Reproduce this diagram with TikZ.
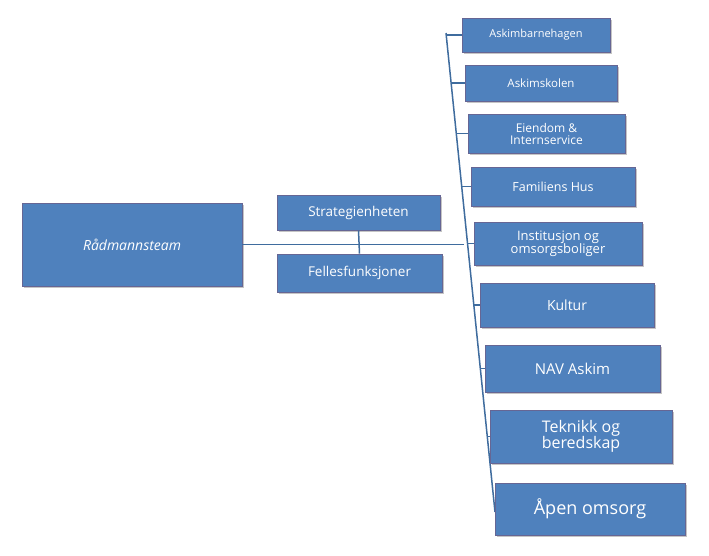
\documentclass[tikz,border=0pt]{standalone}
\usepackage{fontspec}
\setmainfont{Open Sans}
\usetikzlibrary{shadows}
\begin{document}
\begin{tikzpicture}[x=1pt,y=-1pt,
  bx/.style={draw=blue!30!black!60!white,line width=0.6pt,fill=boxc,text=white,align=center,inner sep=1pt,
    drop shadow={shadow xshift=2pt,shadow yshift=-2pt,fill=black!45},font=\fontsize{#1}{#1}\selectfont},
  ln/.style={draw=linec,line width=1.5pt}]
\definecolor{boxc}{HTML}{4F81BD}
\definecolor{linec}{HTML}{3F6C9E}
\useasboundingbox (0,0) rectangle (709,555);
\newcommand\bnode[6]{\node[bx=#6,minimum width=#3-#1,minimum height=#4-#2] (#5) at ({(#1+#3)/2},{(#2+#4)/2})}
\coordinate (s1) at (446,33);
\coordinate (s2) at (495,512);
\draw[ln] (s1)--(s2);
\bnode{22}{203}{242}{286}{r}{14}{\itshape Rådmannsteam};
\bnode{277}{195}{440}{230}{st}{13.5}{Strategienheten};
\bnode{277}{254}{442}{292}{fe}{13.5}{Fellesfunksjoner};
\bnode{462}{18}{610}{52}{a1}{11}{Askimbarnehagen};
\bnode{465}{65}{617}{101}{a2}{11.5}{Askimskolen};
\bnode{468}{114}{625}{153}{a3}{12}{Eiendom \&\\Internservice};
\bnode{471}{167}{635}{206}{a4}{12.5}{Familiens Hus};
\bnode{474}{222}{642}{265}{a5}{13}{Institusjon og\\omsorgsboliger};
\bnode{480}{283}{654}{327}{a6}{14}{Kultur};
\bnode{485}{345}{660}{392}{a7}{15}{NAV Askim};
\bnode{490}{410}{672}{463}{a8}{16}{Teknikk og\\beredskap};
\bnode{495}{483}{685}{535}{a9}{18}{Åpen omsorg};
\foreach \i/\y in {a1/35,a2/83,a3/133.5,a4/186.5,a5/243.5,a6/305,a7/368.5,a8/436.5,a9/509}{
  \pgfmathsetmacro\xx{446+(\y-33)/479*49}
  \draw[ln] (\xx,\y) -- (\i.west);
}
\draw[ln] (r.east) -- ++(222,0);
\draw[ln] (st.south) -- (fe.north);
\end{tikzpicture}
\end{document}
